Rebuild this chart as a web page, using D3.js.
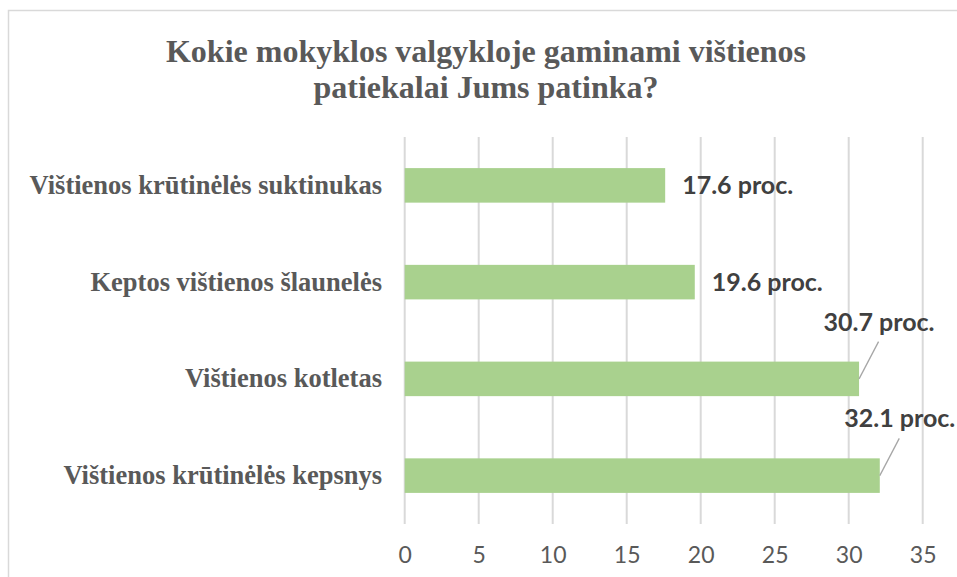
<!DOCTYPE html>
<html lang="lt">
<head>
    <meta charset="UTF-8">
    <title>Vištienos patiekalai</title>
    <style>
        html, body { margin: 0; padding: 0; background: #fff; }
        svg { display: block; }
        .grid line { stroke: #d9d9d9; stroke-width: 2; }
        .cat { font-family: "Liberation Serif", "Times New Roman", serif; font-weight: bold; font-size: 26.5px; fill: #595959; }
        .tick-lbl { font-family: Lato, "Open Sans", sans-serif; font-size: 23px; fill: #595959; }
        .val { font-family: Lato, "Open Sans", sans-serif; font-weight: bold; font-size: 25px; fill: #404040; }
    </style>
</head>
<body>
<svg id="svg" width="957" height="577"></svg>

<script src="https://cdnjs.cloudflare.com/ajax/libs/d3/7.8.5/d3.min.js"></script>
<script>
    // data
    var titleLines = ["Kokie mokyklos valgykloje gaminami vištienos", "patiekalai Jums patinka?"];
    var categories = ["Vištienos krūtinėlės suktinukas", "Keptos vištienos šlaunelės", "Vištienos kotletas", "Vištienos krūtinėlės kepsnys"];
    var values = [17.6, 19.6, 30.7, 32.1];
    var tickValues = [0, 5, 10, 15, 20, 25, 30, 35];
    var suffix = " proc.";

    var W = 957, H = 577;
    var svg = d3.select("#svg");

    // chart border (light grey, runs off the right and bottom edge)
    svg.append("rect")
        .attr("x", 8.5).attr("y", 10.5)
        .attr("width", W).attr("height", H)
        .attr("fill", "#fff")
        .attr("stroke", "#d9d9d9")
        .attr("stroke-width", 1.5);

    // title
    svg.append("g").selectAll("text")
        .data(titleLines)
        .enter().append("text")
        .attr("x", 486)
        .attr("y", function (d, i) { return 61.5 + i * 36; })
        .attr("text-anchor", "middle")
        .attr("font-family", "'Liberation Serif', 'Times New Roman', serif")
        .attr("font-weight", "bold")
        .attr("font-size", 32)
        .attr("fill", "#595959")
        .text(function (d) { return d; });

    var plotTop = 137, plotBottom = 524;
    var x = d3.scaleLinear().domain([0, 35]).range([404.7, 922.7]);
    var y = d3.scaleBand().domain(categories).range([plotTop, plotBottom])
        .paddingInner(0.643).paddingOuter(0.3215);

    // vertical gridlines
    svg.append("g").attr("class", "grid")
        .selectAll("line")
        .data(tickValues)
        .enter().append("line")
        .attr("x1", function (d) { return x(d); })
        .attr("x2", function (d) { return x(d); })
        .attr("y1", plotTop)
        .attr("y2", plotBottom);

    // x axis labels
    var xAxis = d3.axisBottom(x).tickValues(tickValues).tickSize(0).tickPadding(0);
    var ax = svg.append("g")
        .attr("transform", "translate(0," + 547 + ")")
        .call(xAxis);
    ax.select(".domain").remove();
    ax.selectAll("text").attr("class", "tick-lbl").attr("fill", null)
        .attr("dy", "0.71em").attr("y", 0);
    ax.attr("font-size", null).attr("font-family", null);

    // category labels
    svg.append("g").selectAll("text")
        .data(categories)
        .enter().append("text")
        .attr("class", "cat")
        .attr("x", 382)
        .attr("y", function (d) { return y(d) + y.bandwidth() / 2 + 8.5; })
        .attr("text-anchor", "end")
        .text(function (d) { return d; });

    // bars
    svg.append("g").selectAll("rect")
        .data(values)
        .enter().append("rect")
        .attr("x", x(0))
        .attr("y", function (d, i) { return y(categories[i]); })
        .attr("width", function (d) { return x(d) - x(0); })
        .attr("height", y.bandwidth())
        .attr("fill", "#a9d18e");

    // value labels; those that would run off the chart go above with a leader line
    var lbl = svg.append("g");
    values.forEach(function (v, i) {
        var end = x(v);
        var top = y(categories[i]);
        var mid = top + y.bandwidth() / 2;
        var t = lbl.append("text").attr("class", "val").text(v.toFixed(1) + suffix);
        var w = t.node().getComputedTextLength();
        if (end + 17 + w < W - 10) {
            t.attr("x", end + 17).attr("y", mid + 8.5);
        } else {
            t.attr("x", end + 20).attr("y", top - 31).attr("text-anchor", "middle");
            lbl.append("line")
                .attr("x1", end).attr("y1", mid)
                .attr("x2", end + 19.5).attr("y2", top - 20)
                .attr("stroke", "#a6a6a6").attr("stroke-width", 1.3);
        }
    });
</script>
</body>
</html>
